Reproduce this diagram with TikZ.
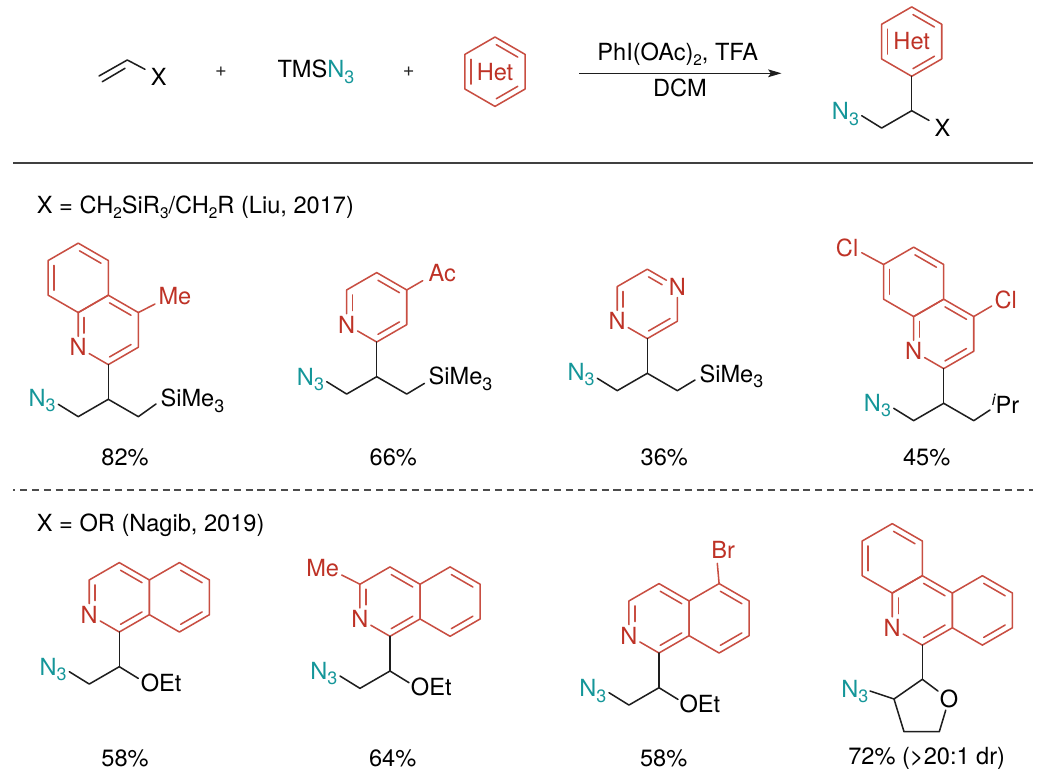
\documentclass[tikz,border=0pt]{standalone}
\usepackage{fontspec}
\setmainfont{TeX Gyre Heros}
\usetikzlibrary{calc,arrows.meta}
\definecolor{redbond}{RGB}{200,78,66}
\definecolor{redtext}{RGB}{190,50,38}
\definecolor{tealN}{RGB}{20,150,153}
\definecolor{inkb}{RGB}{30,30,30}
\newcommand\tsz{\fontsize{17.7}{20}\selectfont}
\newcommand\sbl[1]{\raisebox{-4.2pt}{\fontsize{13.4}{14}\selectfont #1}}
\newcommand\sbt[1]{\raisebox{-3.6pt}{\fontsize{11.5}{12}\selectfont #1}}
\tikzset{
  redb/.style={draw=redbond,line width=1.15pt,line join=round,line cap=round},
  blkb/.style={draw=inkb,line width=1.15pt,line join=round,line cap=round},
  rule/.style={draw=black!75,line width=1.45pt},
  dashrule/.style={draw=black!70,line width=1.25pt,dash pattern=on 5.3pt off 3.6pt,dash phase=3.8pt},
  lbl/.style={anchor=base west,inner sep=0pt,font=\tsz,text=black},
  rlbl/.style={lbl,text=redtext},
  tlbl/.style={lbl,text=tealN},
  yield/.style={anchor=base,inner sep=0pt,font=\tsz,text=black},
  hetatm/.style={inner sep=1.6pt,font=\tsz,text=redtext},
  oatm/.style={inner sep=1.2pt,font=\tsz,text=black},
  plus/.style={anchor=center,inner sep=0pt,font=\fontsize{15}{16}\selectfont,text=black!85},
  atS/.style={shorten <=8pt},
  atE/.style={shorten >=8pt},
}
\newcommand\hexring[3]{%
  \coordinate (#1o) at (#2,#3);
  \coordinate (#1a) at (#2,#3-34.7);
  \coordinate (#1b) at (#2+30.05,#3-17.35);
  \coordinate (#1c) at (#2+30.05,#3+17.35);
  \coordinate (#1d) at (#2,#3+34.7);
  \coordinate (#1e) at (#2-30.05,#3+17.35);
  \coordinate (#1f) at (#2-30.05,#3-17.35);}
\newcommand\hexedges[1]{\draw[redb] (#1a)--(#1b)--(#1c)--(#1d)--(#1e)--(#1f)--(#1a);}
\newcommand\dbl[4][]{\draw[redb,shorten <=1.1pt,shorten >=1.1pt,#1] ($(#2#3)!.2!(#2o)$) -- ($(#2#4)!.2!(#2o)$);}
\newcommand\natom[1]{\node[hetatm] (#1) at (#1) {N};}
% #1 id, #2 Px, #3 Py, #4 N3 baseline offset
\newcommand\frag[4]{%
  \coordinate (#1P) at (#2,#3);
  \coordinate (#1L) at (#2-30.05,#3+17.35);
  \coordinate (#1Ne) at (#2-50,#3+5);
  \node[tlbl] (#1N3) at (#2-80,#3+#4) {N\sbl{3}};
  \draw[blkb] (#1Ne)--(#1L)--(#1P);}
\begin{document}
\begin{tikzpicture}[x=.75pt,y=-.75pt]
\useasboundingbox (0,0) rectangle (1050,778);
% --- scheme
\coordinate (v1) at (99,76); \coordinate (v2) at (127.3,60); \coordinate (v3) at (145,69.3);
\coordinate (v4) at (102.3,81.7); \coordinate (v5) at (125,68.3);
\draw[blkb] (v1)--(v2)--(v3);
\draw[blkb] (v4)--(v5);
\node[lbl] (xa) at (150.7,85.7) {X};
\node[plus] (p1) at (221,71.7) {+};
\node[lbl] (tms) at (277.3,77.7) {TMS\textcolor{tealN}{N\sbl{3}}};
\node[plus] (p2) at (408.7,71.7) {+};
\hexring{h}{495}{71.7}
\hexedges{h}
\dbl{h}{e}{f}\dbl{h}{a}{b}\dbl{h}{c}{d}
\node[anchor=base,inner sep=0pt,font=\tsz,text=redtext] (het1) at (495,80) {Het};
\coordinate (ar1) at (579.3,73.3); \coordinate (ar2) at (781.5,73.3);
\draw[draw=inkb,line width=1.15pt,-{Stealth[length=10pt,width=5.8pt,inset=2pt]}] (ar1)--(ar2);
\node[anchor=base,inner sep=0pt,font=\tsz] (cond1) at (677.7,60.7) {PhI(OAc)\sbt{2}, TFA};
\node[anchor=base,inner sep=0pt,font=\tsz] (cond2) at (680,96.7) {DCM};
% product
\frag{pr}{911.7}{110.7}{8.7}
\hexring{g}{911.7}{41.6}
\hexedges{g}
\dbl{g}{e}{f}\dbl{g}{a}{b}\dbl{g}{c}{d}
\node[anchor=base,inner sep=0pt,font=\tsz,text=redtext] (het2) at (911.7,50) {Het};
\draw[blkb] (prP)--(gd);
\coordinate (prXe) at (929,120.4);
\draw[blkb] (prP)--(prXe);
\node[lbl] (xb) at (934.4,136) {X};
% rules
\coordinate (r1) at (13.3,163.3); \coordinate (r2) at (1033,163.3);
\draw[rule] (r1)--(r2);
\coordinate (r3) at (13.3,489.7); \coordinate (r4) at (1033,489.7);
\draw[dashrule] (r3)--(r4);
\node[lbl] (hd1) at (36.7,213.3) {X = CH\sbt{2}SiR\sbt{3}/CH\sbt{2}R (Liu, 2017)};
\node[lbl] (hd2) at (36.7,531.7) {X = OR (Nagib, 2019)};
% --- mol 1
\frag{m}{108.3}{399.3}{6.7}
\hexring{A}{108.3}{329.9}
\hexring{B}{78.25}{277.85}
\natom{Ae}
\hexedges{A}\hexedges{B}
\dbl[atS]{A}{e}{f}\dbl{A}{a}{b}\dbl{A}{c}{d}
\dbl{B}{a}{b}\dbl{B}{e}{f}
\draw[blkb] (mP)--(Ad);
\coordinate (mRe) at (156,404);
\coordinate (mR) at (138.35,416.65);
\draw[blkb] (mP)--(mR)--(mRe);
\node[lbl] (s1) at (160.3,406.6) {SiMe\sbl{3}};
\coordinate (me1e) at (155,304);
\draw[redb] (Ab)--(me1e);
\node[rlbl] (me1) at (158.3,304) {Me};
\node[yield] (y1) at (125,465) {82\%};
% --- mol 2
\frag{n}{376.7}{376.7}{8.3}
\hexring{C}{376.7}{307.3}
\natom{Ce}
\hexedges{C}
\dbl[atS]{C}{e}{f}\dbl{C}{a}{b}\dbl{C}{c}{d}
\draw[blkb] (nP)--(Cd);
\coordinate (nR) at (406.75,394.05); \coordinate (nRe) at (424.4,383.4);
\draw[blkb] (nP)--(nR)--(nRe);
\node[lbl] (s2) at (428.4,384.4) {SiMe\sbl{3}};
\coordinate (ac1e) at (422.7,280.7);
\draw[redb] (Cb)--(ac1e);
\node[rlbl] (ac1) at (428.3,281.7) {Ac};
\node[yield] (y2) at (393.3,465) {66\%};
% --- mol 3
\frag{q}{647.3}{373.3}{6.7}
\hexring{D}{647.3}{303.9}
\natom{De}\natom{Db}
\hexedges{D}
\dbl[atS]{D}{e}{f}\dbl[atE]{D}{a}{b}\dbl{D}{c}{d}
\draw[blkb] (qP)--(Dd);
\coordinate (qR) at (677.35,390.65); \coordinate (qRe) at (695,380);
\draw[blkb] (qP)--(qR)--(qRe);
\node[lbl] (s3) at (699.3,382.3) {SiMe\sbl{3}};
\node[yield] (y3) at (664.3,465) {36\%};
% --- mol 4
\frag{t}{943.7}{403.3}{7.7}
\hexring{E}{943.7}{333.9}
\hexring{F}{913.65}{281.85}
\natom{Ee}
\hexedges{E}\hexedges{F}
\dbl[atS]{E}{e}{f}\dbl{E}{a}{b}\dbl{E}{c}{d}
\dbl{F}{a}{b}\dbl{F}{e}{f}
\draw[blkb] (tP)--(Ed);
\coordinate (tR) at (973.75,420.65); \coordinate (tRe) at (990,410);
\draw[blkb] (tP)--(tR)--(tRe);
\node[lbl] (ipr) at (991.7,413.3) {\raisebox{6pt}{\fontsize{12}{12}\selectfont\itshape i}Pr};
\coordinate (cl1e) at (861.7,252.7);
\draw[redb] (Ff)--(cl1e);
\node[rlbl] (cl1) at (835.7,256.7) {Cl};
\coordinate (cl2e) at (991.7,306);
\draw[redb] (Eb)--(cl2e);
\node[rlbl] (cl2) at (994.3,308.7) {Cl};
\node[yield] (y4) at (926.7,465) {45\%};
% --- mol 5
\frag{u}{119.3}{666.7}{8.3}
\hexring{G}{119.3}{597.3}
\hexring{H}{179.4}{597.3}
\natom{Ge}
\hexedges{G}\hexedges{H}
\dbl[atS]{G}{e}{f}\dbl{G}{a}{b}\dbl{G}{c}{d}
\dbl{H}{a}{b}\dbl{H}{c}{d}
\draw[blkb] (uP)--(Gd);
\coordinate (uXe) at (138.3,678.4);
\draw[blkb] (uP)--(uXe);
\node[lbl] (o1) at (140.6,691) {OEt};
\node[yield] (y5) at (125,766) {58\%};
% --- mol 6
\frag{w}{390}{671}{8.3}
\hexring{I}{390}{601.6}
\hexring{J}{450.1}{601.6}
\natom{Ie}
\hexedges{I}\hexedges{J}
\dbl[atS]{I}{e}{f}\dbl{I}{a}{b}\dbl{I}{c}{d}
\dbl{J}{a}{b}\dbl{J}{c}{d}
\draw[blkb] (wP)--(Id);
\coordinate (wXe) at (409,682.7);
\draw[blkb] (wP)--(wXe);
\node[lbl] (o2) at (410.7,695) {OEt};
\coordinate (me2e) at (341.7,575);
\draw[redb] (If)--(me2e);
\node[rlbl] (me2) at (306,576) {Me};
\node[yield] (y6) at (392.7,766) {64\%};
% --- mol 7
\frag{z}{659}{687.7}{9}
\hexring{K}{659}{618.3}
\hexring{L}{719.1}{618.3}
\natom{Ke}
\hexedges{K}\hexedges{L}
\dbl[atS]{K}{e}{f}\dbl{K}{a}{b}\dbl{K}{c}{d}
\dbl{L}{a}{b}\dbl{L}{c}{d}
\draw[blkb] (zP)--(Kd);
\coordinate (zXe) at (678,699.4);
\draw[blkb] (zP)--(zXe);
\node[lbl] (o3) at (679.3,712.7) {OEt};
\coordinate (bre) at (717.3,563.3);
\draw[redb] (La)--(bre);
\node[rlbl] (br) at (711,558.3) {Br};
\node[yield] (y7) at (663.7,766) {58\%};
% --- mol 8
\hexring{M}{922.3}{610.4}
\hexring{O}{892.25}{558.35}
\hexring{Q}{982.4}{610.4}
\natom{Me}
\hexedges{M}\hexedges{O}\hexedges{Q}
\dbl[atS]{M}{e}{f}\dbl{M}{a}{b}\dbl{M}{c}{d}
\dbl{O}{a}{b}\dbl{O}{e}{f}
\dbl{Q}{a}{b}\dbl{Q}{c}{d}
\coordinate (th2) at (922.3,679.3);
\node[oatm] (tho) at (949,699.3) {O};
\coordinate (th4) at (939.3,731.7);
\coordinate (th5) at (904,731.7);
\coordinate (th3) at (894,699);
\draw[blkb] (Md)--(th2);
\draw[blkb] (tho)--(th2)--(th3)--(th5)--(th4)--(tho);
\coordinate (thNe) at (870,691);
\draw[blkb] (th3)--(thNe);
\node[tlbl] (thN3) at (841,697.3) {N\sbl{3}};
\node[yield] (y8) at (926.7,764) {72\% (>20:1 dr)};
\end{tikzpicture}
\end{document}
